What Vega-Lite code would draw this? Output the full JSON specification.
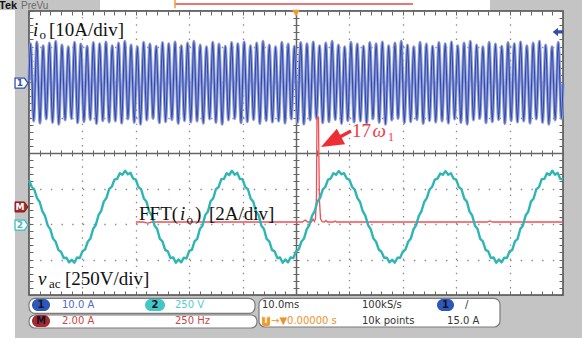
{
"$schema": "https://vega.github.io/schema/vega-lite/v6.json",
"width": 534, "height": 284,
"autosize": {"type": "none"},
"padding": {"left": 29, "top": 11, "right": 19, "bottom": 48},
"background": "#c4c4c4",
"config": {"view": {"fill": "#ffffff", "stroke": "#4a4a4a", "strokeWidth": 1.5}},
"resolve": {"axis": {"x": "independent", "y": "independent"}},
"datasets": {
"io": [
{"t":-50,"v":2.05},
{"t":-49.71,"v":3.08},{"t":-49.12,"v":0.90},{"t":-48.53,"v":3.13},{"t":-47.95,"v":0.84},{"t":-47.36,"v":3.02},{"t":-46.77,"v":0.96},{"t":-46.18,"v":3.10},{"t":-45.59,"v":0.86},{"t":-45.00,"v":3.15},{"t":-44.42,"v":0.81},{"t":-43.83,"v":3.04},{"t":-43.24,"v":0.93},{"t":-42.65,"v":2.99},{"t":-42.06,"v":0.97},{"t":-41.47,"v":3.12},{"t":-40.89,"v":0.85},{"t":-40.30,"v":3.07},
{"t":-39.71,"v":0.88},{"t":-39.12,"v":3.01},{"t":-38.53,"v":0.94},{"t":-37.95,"v":3.11},{"t":-37.36,"v":0.83},{"t":-36.77,"v":3.08},{"t":-36.18,"v":0.91},{"t":-35.59,"v":3.13},{"t":-35.00,"v":0.87},{"t":-34.42,"v":3.02},{"t":-33.83,"v":0.90},{"t":-33.24,"v":3.10},{"t":-32.65,"v":0.84},{"t":-32.06,"v":3.15},{"t":-31.47,"v":0.96},{"t":-30.89,"v":3.04},{"t":-30.30,"v":0.86},
{"t":-29.71,"v":2.99},{"t":-29.12,"v":0.81},{"t":-28.53,"v":3.12},{"t":-27.95,"v":0.93},{"t":-27.36,"v":3.07},{"t":-26.77,"v":0.97},{"t":-26.18,"v":3.01},{"t":-25.59,"v":0.85},{"t":-25.00,"v":3.11},{"t":-24.42,"v":0.88},{"t":-23.83,"v":3.08},{"t":-23.24,"v":0.94},{"t":-22.65,"v":3.13},{"t":-22.06,"v":0.83},{"t":-21.47,"v":3.02},{"t":-20.89,"v":0.91},{"t":-20.30,"v":3.10},
{"t":-19.71,"v":0.87},{"t":-19.12,"v":3.15},{"t":-18.53,"v":0.90},{"t":-17.95,"v":3.04},{"t":-17.36,"v":0.84},{"t":-16.77,"v":2.99},{"t":-16.18,"v":0.96},{"t":-15.59,"v":3.12},{"t":-15.00,"v":0.86},{"t":-14.42,"v":3.07},{"t":-13.83,"v":0.81},{"t":-13.24,"v":3.01},{"t":-12.65,"v":0.93},{"t":-12.06,"v":3.11},{"t":-11.47,"v":0.97},{"t":-10.89,"v":3.08},{"t":-10.30,"v":0.85},
{"t":-9.71,"v":3.13},{"t":-9.12,"v":0.88},{"t":-8.53,"v":3.02},{"t":-7.95,"v":0.94},{"t":-7.36,"v":3.10},{"t":-6.77,"v":0.83},{"t":-6.18,"v":3.15},{"t":-5.59,"v":0.91},{"t":-5.00,"v":3.04},{"t":-4.42,"v":0.87},{"t":-3.83,"v":2.99},{"t":-3.24,"v":0.90},{"t":-2.65,"v":3.12},{"t":-2.06,"v":0.84},{"t":-1.47,"v":3.07},{"t":-0.89,"v":0.96},{"t":-0.30,"v":3.01},
{"t":0.29,"v":0.86},{"t":0.88,"v":3.11},{"t":1.47,"v":0.81},{"t":2.05,"v":3.08},{"t":2.64,"v":0.93},{"t":3.23,"v":3.13},{"t":3.82,"v":0.97},{"t":4.41,"v":3.02},{"t":5.00,"v":0.85},{"t":5.58,"v":3.10},{"t":6.17,"v":0.88},{"t":6.76,"v":3.15},{"t":7.35,"v":0.94},{"t":7.94,"v":3.04},{"t":8.53,"v":0.83},{"t":9.11,"v":2.99},{"t":9.70,"v":0.91},
{"t":10.29,"v":3.12},{"t":10.88,"v":0.87},{"t":11.47,"v":3.07},{"t":12.05,"v":0.90},{"t":12.64,"v":3.01},{"t":13.23,"v":0.84},{"t":13.82,"v":3.11},{"t":14.41,"v":0.96},{"t":15.00,"v":3.08},{"t":15.58,"v":0.86},{"t":16.17,"v":3.13},{"t":16.76,"v":0.81},{"t":17.35,"v":3.02},{"t":17.94,"v":0.93},{"t":18.53,"v":3.10},{"t":19.11,"v":0.97},{"t":19.70,"v":3.15},
{"t":20.29,"v":0.85},{"t":20.88,"v":3.04},{"t":21.47,"v":0.88},{"t":22.05,"v":2.99},{"t":22.64,"v":0.94},{"t":23.23,"v":3.12},{"t":23.82,"v":0.83},{"t":24.41,"v":3.07},{"t":25.00,"v":0.91},{"t":25.58,"v":3.01},{"t":26.17,"v":0.87},{"t":26.76,"v":3.11},{"t":27.35,"v":0.90},{"t":27.94,"v":3.08},{"t":28.53,"v":0.84},{"t":29.11,"v":3.13},{"t":29.70,"v":0.96},
{"t":30.29,"v":3.02},{"t":30.88,"v":0.86},{"t":31.47,"v":3.10},{"t":32.05,"v":0.81},{"t":32.64,"v":3.15},{"t":33.23,"v":0.93},{"t":33.82,"v":3.04},{"t":34.41,"v":0.97},{"t":35.00,"v":2.99},{"t":35.58,"v":0.85},{"t":36.17,"v":3.12},{"t":36.76,"v":0.88},{"t":37.35,"v":3.07},{"t":37.94,"v":0.94},{"t":38.53,"v":3.01},{"t":39.11,"v":0.83},{"t":39.70,"v":3.11},
{"t":40.29,"v":0.91},{"t":40.88,"v":3.08},{"t":41.47,"v":0.87},{"t":42.05,"v":3.13},{"t":42.64,"v":0.90},{"t":43.23,"v":3.02},{"t":43.82,"v":0.84},{"t":44.41,"v":3.10},{"t":45.00,"v":0.96},{"t":45.58,"v":3.15},{"t":46.17,"v":0.86},{"t":46.76,"v":3.04},{"t":47.35,"v":0.81},{"t":47.94,"v":2.99},{"t":48.53,"v":0.93},{"t":49.11,"v":3.12},{"t":49.70,"v":0.97},
{"t":50,"v":1.95}]
},
"layer": [
{"data": {"values": [{"t1":-56,"t2":-52.62,"v1":4.028,"v2":-5.5},{"t1":-56,"t2":54,"v1":-5.211,"v2":-5.5},{"t1":-36.7,"t2":36.33,"v1":4.5,"v2":4.03}]},
 "mark": {"type":"rect","fill":"#ffffff"},
 "encoding": {"x":{"field":"t1","type":"quantitative","scale":{"domain":[-50,50],"nice":false,"zero":false},"axis":null},"x2":{"field":"t2"},"y":{"field":"v1","type":"quantitative","scale":{"domain":[-4,4],"nice":false,"zero":false},"axis":null},"y2":{"field":"v2"}}},
{"data": {"values": [{"t1":-50,"t2":-7.68,"v1":-4.093,"v2":-4.516},{"t1":-50,"t2":-7.3,"v1":-4.563,"v2":-4.93},{"t1":-6.93,"t2":38.2,"v1":-4.093,"v2":-4.901}]},
 "mark": {"type":"rect","fill":"#ffffff","stroke":"#7a7a7a","strokeWidth":1.2,"cornerRadius":6},
 "encoding": {"x":{"field":"t1","type":"quantitative","scale":{"domain":[-50,50],"nice":false,"zero":false},"axis":null},"x2":{"field":"t2"},"y":{"field":"v1","type":"quantitative","scale":{"domain":[-4,4],"nice":false,"zero":false},"axis":null},"y2":{"field":"v2"}}},
{"data": {"values": [{"t1":-49.44,"t2":-46.06,"v1":-4.11,"v2":-4.45},{"t1":26.4,"t2":29.59,"v1":-4.11,"v2":-4.45}]},
 "mark": {"type":"rect","fill":"#2d57b8","cornerRadius":6},
 "encoding": {"x":{"field":"t1","type":"quantitative","scale":{"domain":[-50,50],"nice":false,"zero":false},"axis":null},"x2":{"field":"t2"},"y":{"field":"v1","type":"quantitative","scale":{"domain":[-4,4],"nice":false,"zero":false},"axis":null},"y2":{"field":"v2"}}},
{"data": {"values": [{"t1":-28.28,"t2":-24.53,"v1":-4.11,"v2":-4.45}]},
 "mark": {"type":"rect","fill":"#45c6c6","cornerRadius":6},
 "encoding": {"x":{"field":"t1","type":"quantitative","scale":{"domain":[-50,50],"nice":false,"zero":false},"axis":null},"x2":{"field":"t2"},"y":{"field":"v1","type":"quantitative","scale":{"domain":[-4,4],"nice":false,"zero":false},"axis":null},"y2":{"field":"v2"}}},
{"data": {"values": [{"t1":-49.44,"t2":-46.06,"v1":-4.56,"v2":-4.90}]},
 "mark": {"type":"rect","fill":"#a52a2d","cornerRadius":6},
 "encoding": {"x":{"field":"t1","type":"quantitative","scale":{"domain":[-50,50],"nice":false,"zero":false},"axis":null},"x2":{"field":"t2"},"y":{"field":"v1","type":"quantitative","scale":{"domain":[-4,4],"nice":false,"zero":false},"axis":null},"y2":{"field":"v2"}}},
{"data": {"values": [{"t1":-6.37,"t2":-4.87,"v1":-4.592,"v2":-4.873}]},
 "mark": {"type":"rect","fill":"#f39a2e","cornerRadius":2},
 "encoding": {"x":{"field":"t1","type":"quantitative","scale":{"domain":[-50,50],"nice":false,"zero":false},"axis":null},"x2":{"field":"t2"},"y":{"field":"v1","type":"quantitative","scale":{"domain":[-4,4],"nice":false,"zero":false},"axis":null},"y2":{"field":"v2"}}},
{"data": {"values": [{"t":-47.75,"v":-4.282,"s":"1"},{"t":-26.4,"v":-4.282,"s":"2"},{"t":-47.75,"v":-4.732,"s":"M"},{"t":28.0,"v":-4.282,"s":"1"}]},
 "mark": {"type":"text","font":"DejaVu Sans","fontSize":10,"fontWeight":"bold","align":"center","baseline":"middle","color":"#14142a"},
 "encoding": {"x":{"field":"t","type":"quantitative","scale":{"domain":[-50,50],"nice":false,"zero":false},"axis":null},"y":{"field":"v","type":"quantitative","scale":{"domain":[-4,4],"nice":false,"zero":false},"axis":null},"text":{"field":"s"}}},
{"data": {"values": [{"t":-5.62,"v":-4.732,"s":"T"}]},
 "mark": {"type":"text","font":"DejaVu Sans","fontSize":8,"fontWeight":"bold","align":"center","baseline":"middle","color":"#ffffff"},
 "encoding": {"x":{"field":"t","type":"quantitative","scale":{"domain":[-50,50],"nice":false,"zero":false},"axis":null},"y":{"field":"v","type":"quantitative","scale":{"domain":[-4,4],"nice":false,"zero":false},"axis":null},"text":{"field":"s"}}},
{"data": {"values": [{"t":-43.82,"v":-4.282,"s":"10.0 A"}]},
 "mark": {"type":"text","font":"DejaVu Sans","fontSize":10,"align":"left","baseline":"middle","color":"#5068c8"},
 "encoding": {"x":{"field":"t","type":"quantitative","scale":{"domain":[-50,50],"nice":false,"zero":false},"axis":null},"y":{"field":"v","type":"quantitative","scale":{"domain":[-4,4],"nice":false,"zero":false},"axis":null},"text":{"field":"s"}}},
{"data": {"values": [{"t":-22.66,"v":-4.282,"s":"250 V"}]},
 "mark": {"type":"text","font":"DejaVu Sans","fontSize":10,"align":"left","baseline":"middle","color":"#55cccc"},
 "encoding": {"x":{"field":"t","type":"quantitative","scale":{"domain":[-50,50],"nice":false,"zero":false},"axis":null},"y":{"field":"v","type":"quantitative","scale":{"domain":[-4,4],"nice":false,"zero":false},"axis":null},"text":{"field":"s"}}},
{"data": {"values": [{"t":-43.82,"v":-4.732,"s":"2.00 A"},{"t":-22.66,"v":-4.732,"s":"250 Hz"}]},
 "mark": {"type":"text","font":"DejaVu Sans","fontSize":10,"align":"left","baseline":"middle","color":"#c8474a"},
 "encoding": {"x":{"field":"t","type":"quantitative","scale":{"domain":[-50,50],"nice":false,"zero":false},"axis":null},"y":{"field":"v","type":"quantitative","scale":{"domain":[-4,4],"nice":false,"zero":false},"axis":null},"text":{"field":"s"}}},
{"data": {"values": [{"t":-6.37,"v":-4.282,"s":"10.0ms"},{"t":12.36,"v":-4.282,"s":"100kS/s"},{"t":12.36,"v":-4.732,"s":"10k points"},{"t":28.28,"v":-4.732,"s":"15.0 A"},{"t":31.65,"v":-4.282,"s":"/"}]},
 "mark": {"type":"text","font":"DejaVu Sans","fontSize":10,"align":"left","baseline":"middle","color":"#333333"},
 "encoding": {"x":{"field":"t","type":"quantitative","scale":{"domain":[-50,50],"nice":false,"zero":false},"axis":null},"y":{"field":"v","type":"quantitative","scale":{"domain":[-4,4],"nice":false,"zero":false},"axis":null},"text":{"field":"s"}}},
{"data": {"values": [{"t":-4.68,"v":-4.732,"s":"→▼0.00000 s"}]},
 "mark": {"type":"text","font":"DejaVu Sans","fontSize":10,"align":"left","baseline":"middle","color":"#f0902a"},
 "encoding": {"x":{"field":"t","type":"quantitative","scale":{"domain":[-50,50],"nice":false,"zero":false},"axis":null},"y":{"field":"v","type":"quantitative","scale":{"domain":[-4,4],"nice":false,"zero":false},"axis":null},"text":{"field":"s"}}},
{"data": {"values": [{"t":-55.6,"v":4.056,"s":"Tek"}]},
 "mark": {"type":"text","font":"Liberation Sans","fontSize":11,"fontWeight":"bold","align":"left","baseline":"alphabetic","color":"#111111"},
 "encoding": {"x":{"field":"t","type":"quantitative","scale":{"domain":[-50,50],"nice":false,"zero":false},"axis":null},"y":{"field":"v","type":"quantitative","scale":{"domain":[-4,4],"nice":false,"zero":false},"axis":null},"text":{"field":"s"}}},
{"data": {"values": [{"t":-51.5,"v":4.056,"s":"PreVu"}]},
 "mark": {"type":"text","font":"Liberation Sans","fontSize":10,"align":"left","baseline":"alphabetic","color":"#6a6a6a"},
 "encoding": {"x":{"field":"t","type":"quantitative","scale":{"domain":[-50,50],"nice":false,"zero":false},"axis":null},"y":{"field":"v","type":"quantitative","scale":{"domain":[-4,4],"nice":false,"zero":false},"axis":null},"text":{"field":"s"}}},
{"data": {"values": [{"t":-22.66,"t2":21.91,"v":4.197}]},
 "mark": {"type":"rule","color":"#e04848","strokeWidth":1.3},
 "encoding": {"x":{"field":"t","type":"quantitative","scale":{"domain":[-50,50],"nice":false,"zero":false},"axis":null},"x2":{"field":"t2"},"y":{"field":"v","type":"quantitative","scale":{"domain":[-4,4],"nice":false,"zero":false},"axis":null}}},
{"data": {"values": [{"t":-22.66,"v":4.31,"v2":4.08}]},
 "mark": {"type":"rule","color":"#f39a2e","strokeWidth":1.5},
 "encoding": {"x":{"field":"t","type":"quantitative","scale":{"domain":[-50,50],"nice":false,"zero":false},"axis":null},"y":{"field":"v","type":"quantitative","scale":{"domain":[-4,4],"nice":false,"zero":false},"axis":null},"y2":{"field":"v2"}}},
{"data": {"values": [{"t":0,"v":3.94}]},
 "mark": {"type":"point","shape":"triangle-down","filled":true,"size":60,"color":"#f39a2e","opacity":1},
 "encoding": {"x":{"field":"t","type":"quantitative","scale":{"domain":[-50,50],"nice":false,"zero":false},"axis":null},"y":{"field":"v","type":"quantitative","scale":{"domain":[-4,4],"nice":false,"zero":false},"axis":null}}},
{"data": {"values": [{"t":49.06,"v":3.41}]},
 "mark": {"type":"point","shape":"M-1,0 L0,-0.8 L0,-0.3 L1,-0.3 L1,0.3 L0,0.3 L0,0.8 Z","filled":true,"size":110,"color":"#3050b0","opacity":1},
 "encoding": {"x":{"field":"t","type":"quantitative","scale":{"domain":[-50,50],"nice":false,"zero":false},"axis":null},"y":{"field":"v","type":"quantitative","scale":{"domain":[-4,4],"nice":false,"zero":false},"axis":null}}},
{"data": {"values": [{"t":-51.4,"v":1.97}]},
 "mark": {"type":"point","shape":"M-1,-0.77 L0.45,-0.77 L1,0 L0.45,0.77 L-1,0.77 Z","filled":true,"size":169,"fill":"#ffffff","stroke":"#3050b0","strokeWidth":1.3,"opacity":1},
 "encoding": {"x":{"field":"t","type":"quantitative","scale":{"domain":[-50,50],"nice":false,"zero":false},"axis":null},"y":{"field":"v","type":"quantitative","scale":{"domain":[-4,4],"nice":false,"zero":false},"axis":null}}},
{"data": {"values": [{"t":-51.4,"v":-1.52}]},
 "mark": {"type":"point","shape":"M-1,-0.77 L0.45,-0.77 L1,0 L0.45,0.77 L-1,0.77 Z","filled":true,"size":169,"fill":"#a52a2d","stroke":"#7a1a1a","strokeWidth":1,"opacity":1},
 "encoding": {"x":{"field":"t","type":"quantitative","scale":{"domain":[-50,50],"nice":false,"zero":false},"axis":null},"y":{"field":"v","type":"quantitative","scale":{"domain":[-4,4],"nice":false,"zero":false},"axis":null}}},
{"data": {"values": [{"t":-51.4,"v":-2.03}]},
 "mark": {"type":"point","shape":"M-1,-0.77 L0.45,-0.77 L1,0 L0.45,0.77 L-1,0.77 Z","filled":true,"size":169,"fill":"#ffffff","stroke":"#3fbcbc","strokeWidth":1.3,"opacity":1},
 "encoding": {"x":{"field":"t","type":"quantitative","scale":{"domain":[-50,50],"nice":false,"zero":false},"axis":null},"y":{"field":"v","type":"quantitative","scale":{"domain":[-4,4],"nice":false,"zero":false},"axis":null}}},
{"data": {"values": [{"t":-51.7,"v":1.97,"s":"1"}]},
 "mark": {"type":"text","font":"DejaVu Sans","fontSize":9,"fontWeight":"bold","align":"center","baseline":"middle","color":"#3050b0"},
 "encoding": {"x":{"field":"t","type":"quantitative","scale":{"domain":[-50,50],"nice":false,"zero":false},"axis":null},"y":{"field":"v","type":"quantitative","scale":{"domain":[-4,4],"nice":false,"zero":false},"axis":null},"text":{"field":"s"}}},
{"data": {"values": [{"t":-51.7,"v":-1.52,"s":"M"}]},
 "mark": {"type":"text","font":"DejaVu Sans","fontSize":9,"fontWeight":"bold","align":"center","baseline":"middle","color":"#ffffff"},
 "encoding": {"x":{"field":"t","type":"quantitative","scale":{"domain":[-50,50],"nice":false,"zero":false},"axis":null},"y":{"field":"v","type":"quantitative","scale":{"domain":[-4,4],"nice":false,"zero":false},"axis":null},"text":{"field":"s"}}},
{"data": {"values": [{"t":-51.7,"v":-2.03,"s":"2"}]},
 "mark": {"type":"text","font":"DejaVu Sans","fontSize":9,"fontWeight":"bold","align":"center","baseline":"middle","color":"#3fbcbc"},
 "encoding": {"x":{"field":"t","type":"quantitative","scale":{"domain":[-50,50],"nice":false,"zero":false},"axis":null},"y":{"field":"v","type":"quantitative","scale":{"domain":[-4,4],"nice":false,"zero":false},"axis":null},"text":{"field":"s"}}},
{"data": {"name": "io"},
 "mark": {"type":"line","color":"#8d9ad6","strokeWidth":3.0,"interpolate":"monotone"},
 "encoding": {"x":{"field":"t","type":"quantitative","scale":{"domain":[-50,50],"nice":false,"zero":false},"axis":{"orient":"top","values":[-40,-30,-20,-10,10,20,30,40],"grid":true,"gridDash":[1.4,5.7],"gridColor":"#8a8a8a","gridWidth":1.3,"ticks":false,"domain":false,"labels":false,"title":null}},
   "y":{"field":"v","type":"quantitative","scale":{"domain":[-4,4],"nice":false,"zero":false},"axis":{"orient":"left","values":[-3,-2,-1,1,2,3],"grid":true,"gridDash":[1.4,9.28],"gridColor":"#8a8a8a","gridWidth":1.3,"ticks":false,"domain":false,"labels":false,"title":null}}}},
{"data": {"name": "io"},
 "mark": {"type":"line","color":"#2f49aa","strokeWidth":1.1,"interpolate":"monotone"},
 "encoding": {"x":{"field":"t","type":"quantitative","scale":{"domain":[-50,50],"nice":false,"zero":false},"axis":null},
   "y":{"field":"v","type":"quantitative","scale":{"domain":[-4,4],"nice":false,"zero":false},"axis":null}}},
{"data": {"values": [
{"t":-30,"v":-1.944},{"t":-28.6,"v":-1.944},{"t":-27.8,"v":-1.975},{"t":-27.0,"v":-1.944},{"t":1.2,"v":-1.944},{"t":1.7,"v":-1.89},{"t":2.2,"v":-1.944},{"t":2.9,"v":-1.944},{"t":3.2,"v":-1.86},{"t":3.45,"v":-1.93},{"t":3.65,"v":-1.85},{"t":3.82,"v":-1.3},{"t":3.93,"v":1.01},{"t":4.2,"v":1.01},{"t":4.38,"v":-1.3},{"t":4.6,"v":-1.86},{"t":4.9,"v":-1.935},{"t":5.3,"v":-1.944},{"t":5.6,"v":-1.9},{"t":5.9,"v":-1.944},{"t":7.0,"v":-1.944},{"t":7.3,"v":-1.915},{"t":7.6,"v":-1.944},{"t":35.8,"v":-1.944},{"t":36.3,"v":-1.915},{"t":36.8,"v":-1.944},{"t":50,"v":-1.944}]},
 "mark": {"type":"line","color":"#ef4f55","strokeWidth":1.3},
 "encoding": {"x":{"field":"t","type":"quantitative","scale":{"domain":[-50,50],"nice":false,"zero":false},"axis":{"orient":"bottom","offset":-4,"values":[-50,-48,-46,-44,-42,-40,-38,-36,-34,-32,-30,-28,-26,-24,-22,-20,-18,-16,-14,-12,-10,-8,-6,-4,-2,0,2,4,6,8,10,12,14,16,18,20,22,24,26,28,30,32,34,36,38,40,42,44,46,48,50],"tickSize":4,"tickColor":"#666666","grid":false,"domain":false,"labels":false,"title":null}},
   "y":{"field":"v","type":"quantitative","scale":{"domain":[-4,4],"nice":false,"zero":false},"axis":{"orient":"right","offset":-4,"values":[-4,-3.8,-3.6,-3.4,-3.2,-3,-2.8,-2.6,-2.4,-2.2,-2,-1.8,-1.6,-1.4,-1.2,-1,-0.8,-0.6,-0.4,-0.2,0,0.2,0.4,0.6,0.8,1,1.2,1.4,1.6,1.8,2,2.2,2.4,2.6,2.8,3,3.2,3.4,3.6,3.8,4],"tickSize":4,"tickColor":"#666666","grid":false,"domain":false,"labels":false,"title":null}}}},
{"data": {"values": [
{"t":-50,"v":-0.76},{"t":-49.5,"v":-0.95},{"t":-49,"v":-1.03},{"t":-48.5,"v":-1.27},{"t":-48,"v":-1.38},{"t":-47.5,"v":-1.64},{"t":-47,"v":-1.77},{"t":-46.5,"v":-2.04},{"t":-46,"v":-2.15},{"t":-45.5,"v":-2.41},{"t":-45,"v":-2.50},{"t":-44.5,"v":-2.73},{"t":-44,"v":-2.78},{"t":-43.5,"v":-2.96},{"t":-43,"v":-2.95},{"t":-42.5,"v":-3.08},{"t":-42,"v":-3.01},{"t":-41.5,"v":-3.09},{"t":-41,"v":-2.94},{"t":-40.5,"v":-2.96},
{"t":-40,"v":-2.77},{"t":-39.5,"v":-2.72},{"t":-39,"v":-2.50},{"t":-38.5,"v":-2.41},{"t":-38,"v":-2.14},{"t":-37.5,"v":-2.03},{"t":-37,"v":-1.76},{"t":-36.5,"v":-1.64},{"t":-36,"v":-1.37},{"t":-35.5,"v":-1.27},{"t":-35,"v":-1.02},{"t":-34.5,"v":-0.95},{"t":-34,"v":-0.75},{"t":-33.5,"v":-0.73},{"t":-33,"v":-0.57},{"t":-32.5,"v":-0.61},{"t":-32,"v":-0.50},{"t":-31.5,"v":-0.60},{"t":-31,"v":-0.56},{"t":-30.5,"v":-0.72},
{"t":-30,"v":-0.75},{"t":-29.5,"v":-0.96},{"t":-29,"v":-1.02},{"t":-28.5,"v":-1.28},{"t":-28,"v":-1.37},{"t":-27.5,"v":-1.65},{"t":-27,"v":-1.76},{"t":-26.5,"v":-2.04},{"t":-26,"v":-2.14},{"t":-25.5,"v":-2.42},{"t":-25,"v":-2.49},{"t":-24.5,"v":-2.73},{"t":-24,"v":-2.77},{"t":-23.5,"v":-2.96},{"t":-23,"v":-2.94},{"t":-22.5,"v":-3.09},{"t":-22,"v":-3.00},{"t":-21.5,"v":-3.08},{"t":-21,"v":-2.95},{"t":-20.5,"v":-2.97},
{"t":-20,"v":-2.76},{"t":-19.5,"v":-2.73},{"t":-19,"v":-2.49},{"t":-18.5,"v":-2.42},{"t":-18,"v":-2.14},{"t":-17.5,"v":-2.04},{"t":-17,"v":-1.75},{"t":-16.5,"v":-1.65},{"t":-16,"v":-1.36},{"t":-15.5,"v":-1.28},{"t":-15,"v":-1.02},{"t":-14.5,"v":-0.96},{"t":-14,"v":-0.74},{"t":-13.5,"v":-0.73},{"t":-13,"v":-0.57},{"t":-12.5,"v":-0.62},{"t":-12,"v":-0.50},{"t":-11.5,"v":-0.61},{"t":-11,"v":-0.56},{"t":-10.5,"v":-0.73},
{"t":-10,"v":-0.74},{"t":-9.5,"v":-0.96},{"t":-9,"v":-1.02},{"t":-8.5,"v":-1.28},{"t":-8,"v":-1.37},{"t":-7.5,"v":-1.65},{"t":-7,"v":-1.75},{"t":-6.5,"v":-2.04},{"t":-6,"v":-2.14},{"t":-5.5,"v":-2.42},{"t":-5,"v":-2.49},{"t":-4.5,"v":-2.73},{"t":-4,"v":-2.77},{"t":-3.5,"v":-2.96},{"t":-3,"v":-2.94},{"t":-2.5,"v":-3.09},{"t":-2,"v":-3.00},{"t":-1.5,"v":-3.08},{"t":-1,"v":-2.94},{"t":-0.5,"v":-2.96},
{"t":0,"v":-2.77},{"t":0.5,"v":-2.72},{"t":1,"v":-2.50},{"t":1.5,"v":-2.41},{"t":2,"v":-2.15},{"t":2.5,"v":-2.03},{"t":3,"v":-1.77},{"t":3.5,"v":-1.64},{"t":4,"v":-1.37},{"t":4.5,"v":-1.27},{"t":5,"v":-1.03},{"t":5.5,"v":-0.95},{"t":6,"v":-0.75},{"t":6.5,"v":-0.72},{"t":7,"v":-0.57},{"t":7.5,"v":-0.61},{"t":8,"v":-0.51},{"t":8.5,"v":-0.60},{"t":9,"v":-0.57},{"t":9.5,"v":-0.72},
{"t":10,"v":-0.75},{"t":10.5,"v":-0.95},{"t":11,"v":-1.03},{"t":11.5,"v":-1.27},{"t":12,"v":-1.38},{"t":12.5,"v":-1.64},{"t":13,"v":-1.77},{"t":13.5,"v":-2.03},{"t":14,"v":-2.15},{"t":14.5,"v":-2.41},{"t":15,"v":-2.50},{"t":15.5,"v":-2.72},{"t":16,"v":-2.78},{"t":16.5,"v":-2.95},{"t":17,"v":-2.95},{"t":17.5,"v":-3.08},{"t":18,"v":-3.01},{"t":18.5,"v":-3.09},{"t":19,"v":-2.95},{"t":19.5,"v":-2.95},
{"t":20,"v":-2.78},{"t":20.5,"v":-2.72},{"t":21,"v":-2.50},{"t":21.5,"v":-2.41},{"t":22,"v":-2.15},{"t":22.5,"v":-2.03},{"t":23,"v":-1.77},{"t":23.5,"v":-1.64},{"t":24,"v":-1.38},{"t":24.5,"v":-1.27},{"t":25,"v":-1.03},{"t":25.5,"v":-0.95},{"t":26,"v":-0.75},{"t":26.5,"v":-0.72},{"t":27,"v":-0.58},{"t":27.5,"v":-0.61},{"t":28,"v":-0.51},{"t":28.5,"v":-0.61},{"t":29,"v":-0.57},{"t":29.5,"v":-0.72},
{"t":30,"v":-0.75},{"t":30.5,"v":-0.96},{"t":31,"v":-1.02},{"t":31.5,"v":-1.28},{"t":32,"v":-1.37},{"t":32.5,"v":-1.65},{"t":33,"v":-1.76},{"t":33.5,"v":-2.04},{"t":34,"v":-2.14},{"t":34.5,"v":-2.42},{"t":35,"v":-2.49},{"t":35.5,"v":-2.73},{"t":36,"v":-2.77},{"t":36.5,"v":-2.96},{"t":37,"v":-2.94},{"t":37.5,"v":-3.09},{"t":38,"v":-3.00},{"t":38.5,"v":-3.08},{"t":39,"v":-2.95},{"t":39.5,"v":-2.96},
{"t":40,"v":-2.77},{"t":40.5,"v":-2.73},{"t":41,"v":-2.49},{"t":41.5,"v":-2.42},{"t":42,"v":-2.14},{"t":42.5,"v":-2.04},{"t":43,"v":-1.76},{"t":43.5,"v":-1.65},{"t":44,"v":-1.37},{"t":44.5,"v":-1.28},{"t":45,"v":-1.02},{"t":45.5,"v":-0.96},{"t":46,"v":-0.74},{"t":46.5,"v":-0.73},{"t":47,"v":-0.57},{"t":47.5,"v":-0.62},{"t":48,"v":-0.50},{"t":48.5,"v":-0.61},{"t":49,"v":-0.56},{"t":49.5,"v":-0.73},
{"t":50,"v":-0.74}]},
 "mark": {"type":"line","color":"#2fb5b3","strokeWidth":2.4,"strokeJoin":"round"},
 "encoding": {"x":{"field":"t","type":"quantitative","scale":{"domain":[-50,50],"nice":false,"zero":false},"axis":{"orient":"top","offset":-4,"values":[-50,-48,-46,-44,-42,-40,-38,-36,-34,-32,-30,-28,-26,-24,-22,-20,-18,-16,-14,-12,-10,-8,-6,-4,-2,0,2,4,6,8,10,12,14,16,18,20,22,24,26,28,30,32,34,36,38,40,42,44,46,48,50],"tickSize":4,"tickColor":"#666666","grid":false,"domain":false,"labels":false,"title":null}},
   "y":{"field":"v","type":"quantitative","scale":{"domain":[-4,4],"nice":false,"zero":false},"axis":{"orient":"left","offset":-4,"values":[-4,-3.8,-3.6,-3.4,-3.2,-3,-2.8,-2.6,-2.4,-2.2,-2,-1.8,-1.6,-1.4,-1.2,-1,-0.8,-0.6,-0.4,-0.2,0,0.2,0.4,0.6,0.8,1,1.2,1.4,1.6,1.8,2,2.2,2.4,2.6,2.8,3,3.2,3.4,3.6,3.8,4],"tickSize":4,"tickColor":"#666666","grid":false,"domain":false,"labels":false,"title":null}}}},
{"data": {"values": [{"t":-46.25,"v":3.296,"s":"[10A/div]"},{"t":-29.4,"v":-1.887,"s":"FFT("},{"t":-18.91,"v":-1.887,"s":")"},{"t":-16.29,"v":-1.887,"s":"[2A/div]"},{"t":-43.26,"v":-3.718,"s":"[250V/div]"}]},
 "mark": {"type":"text","font":"Liberation Serif","fontSize":19,"align":"left","baseline":"alphabetic","color":"#111111"},
 "encoding": {"x":{"field":"t","type":"quantitative","scale":{"domain":[-50,50],"nice":false,"zero":false},"axis":{"orient":"bottom","offset":-142,"values":[-50,-48,-46,-44,-42,-40,-38,-36,-34,-32,-30,-28,-26,-24,-22,-20,-18,-16,-14,-12,-10,-8,-6,-4,-2,0,2,4,6,8,10,12,14,16,18,20,22,24,26,28,30,32,34,36,38,40,42,44,46,48,50],"tickSize":3,"tickColor":"#666666","domain":true,"domainColor":"#666666","domainWidth":1.5,"grid":false,"labels":false,"title":null}},
   "y":{"field":"v","type":"quantitative","scale":{"domain":[-4,4],"nice":false,"zero":false},"axis":{"orient":"left","offset":-267,"values":[-4,-3.8,-3.6,-3.4,-3.2,-3,-2.8,-2.6,-2.4,-2.2,-2,-1.8,-1.6,-1.4,-1.2,-1,-0.8,-0.6,-0.4,-0.2,0,0.2,0.4,0.6,0.8,1,1.2,1.4,1.6,1.8,2,2.2,2.4,2.6,2.8,3,3.2,3.4,3.6,3.8,4],"tickSize":3,"tickColor":"#666666","domain":true,"domainColor":"#666666","domainWidth":1.5,"grid":false,"labels":false,"title":null}},
   "text":{"field":"s"}}},
{"data": {"values": [{"t":-49.25,"v":3.296,"s":"i"},{"t":-21.72,"v":-1.887,"s":"i"},{"t":-48.31,"v":-3.718,"s":"v"}]},
 "mark": {"type":"text","font":"Liberation Serif","fontSize":19,"fontStyle":"italic","align":"left","baseline":"alphabetic","color":"#111111"},
 "encoding": {"x":{"field":"t","type":"quantitative","scale":{"domain":[-50,50],"nice":false,"zero":false},"axis":{"orient":"top","offset":-142,"values":[-50,-48,-46,-44,-42,-40,-38,-36,-34,-32,-30,-28,-26,-24,-22,-20,-18,-16,-14,-12,-10,-8,-6,-4,-2,0,2,4,6,8,10,12,14,16,18,20,22,24,26,28,30,32,34,36,38,40,42,44,46,48,50],"tickSize":3,"tickColor":"#666666","domain":false,"grid":false,"labels":false,"title":null}},
   "y":{"field":"v","type":"quantitative","scale":{"domain":[-4,4],"nice":false,"zero":false},"axis":{"orient":"right","offset":-267,"values":[-4,-3.8,-3.6,-3.4,-3.2,-3,-2.8,-2.6,-2.4,-2.2,-2,-1.8,-1.6,-1.4,-1.2,-1,-0.8,-0.6,-0.4,-0.2,0,0.2,0.4,0.6,0.8,1,1.2,1.4,1.6,1.8,2,2.2,2.4,2.6,2.8,3,3.2,3.4,3.6,3.8,4],"tickSize":3,"tickColor":"#666666","domain":false,"grid":false,"labels":false,"title":null}},
   "text":{"field":"s"}}},
{"data": {"values": [{"t":-48.03,"v":3.211,"s":"o"},{"t":-20.51,"v":-2.0,"s":"o"},{"t":-46.25,"v":-3.803,"s":"ac"}]},
 "mark": {"type":"text","font":"Liberation Serif","fontSize":13,"align":"left","baseline":"alphabetic","color":"#111111"},
 "encoding": {"x":{"field":"t","type":"quantitative","scale":{"domain":[-50,50],"nice":false,"zero":false},"axis":null},"y":{"field":"v","type":"quantitative","scale":{"domain":[-4,4],"nice":false,"zero":false},"axis":null},"text":{"field":"s"}}},
{"data": {"values": [{"t":10.30,"v":0.62,"t2":7.49,"v2":0.394}]},
 "mark": {"type":"rule","color":"#ee2e35","strokeWidth":3.2},
 "encoding": {"x":{"field":"t","type":"quantitative","scale":{"domain":[-50,50],"nice":false,"zero":false},"axis":null},"x2":{"field":"t2"},"y":{"field":"v","type":"quantitative","scale":{"domain":[-4,4],"nice":false,"zero":false},"axis":null},"y2":{"field":"v2"}}},
{"data": {"values": [{"t":6.55,"v":0.317}]},
 "mark": {"type":"point","shape":"M0,-1 L0.78,1 L-0.78,1 Z","filled":true,"size":511,"angle":242,"color":"#ee2e35","opacity":1},
 "encoding": {"x":{"field":"t","type":"quantitative","scale":{"domain":[-50,50],"nice":false,"zero":false},"axis":null},"y":{"field":"v","type":"quantitative","scale":{"domain":[-4,4],"nice":false,"zero":false},"axis":null}}},
{"data": {"values": [{"t":10.49,"v":0.451,"s":"17"}]},
 "mark": {"type":"text","font":"Liberation Serif","fontSize":19,"align":"left","baseline":"alphabetic","color":"#ee3a40"},
 "encoding": {"x":{"field":"t","type":"quantitative","scale":{"domain":[-50,50],"nice":false,"zero":false},"axis":null},"y":{"field":"v","type":"quantitative","scale":{"domain":[-4,4],"nice":false,"zero":false},"axis":null},"text":{"field":"s"}}},
{"data": {"values": [{"t":14.33,"v":0.451,"s":"ω"}]},
 "mark": {"type":"text","font":"Liberation Serif","fontSize":19,"fontStyle":"italic","align":"left","baseline":"alphabetic","color":"#ee3a40"},
 "encoding": {"x":{"field":"t","type":"quantitative","scale":{"domain":[-50,50],"nice":false,"zero":false},"axis":null},"y":{"field":"v","type":"quantitative","scale":{"domain":[-4,4],"nice":false,"zero":false},"axis":null},"text":{"field":"s"}}},
{"data": {"values": [{"t":17.23,"v":0.338,"s":"1"}]},
 "mark": {"type":"text","font":"Liberation Serif","fontSize":12,"align":"left","baseline":"alphabetic","color":"#ee3a40"},
 "encoding": {"x":{"field":"t","type":"quantitative","scale":{"domain":[-50,50],"nice":false,"zero":false},"axis":null},"y":{"field":"v","type":"quantitative","scale":{"domain":[-4,4],"nice":false,"zero":false},"axis":null},"text":{"field":"s"}}}
]
}
